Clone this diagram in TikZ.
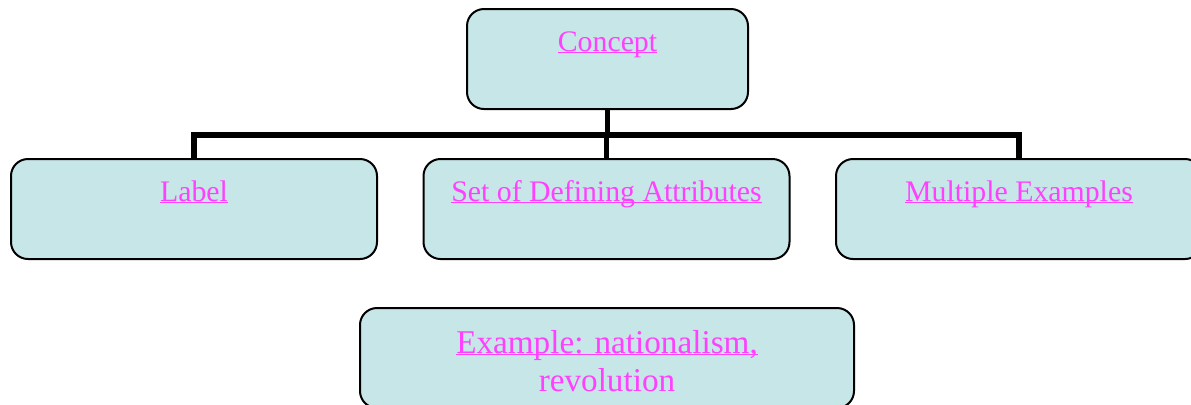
\documentclass[tikz,border=0pt]{standalone}
\usepackage{fontspec}
\setmainfont{Liberation Serif}
\definecolor{bleu}{RGB}{198,230,232}
\definecolor{rose}{RGB}{255,64,255}
\newcommand{\largeur}{183pt}
\newcommand{\hauteur}{50pt}
\newcommand{\souligne}[1]{\setbox0\hbox{#1}\rlap{\rule[-1.2pt]{\wd0}{0.9pt}}\box0}
\tikzstyle{case}=[rectangle, rounded corners=8.5pt, line width=1pt, minimum width=\largeur, draw = black, fill=bleu, text=rose, inner sep = 0cm, anchor=north west, align=center, font=\fontsize{14.9}{17}\selectfont, text height=21pt, text depth=29pt]
\tikzstyle{trait}=[line width=2.7pt]
\newcommand{\da}[1]{ \draw[trait] (C.south) -- ++(0,-25) -| (C#1.north); }

\begin{document}
\begin{tikzpicture}[x=0.5pt,y=0.5pt]

 \useasboundingbox (0,0) rectangle (1191,-404);

 \node[case,minimum width=140.5pt] (C) at (466,-8) {\souligne{Concept}};

 \foreach \i/\t in {0/Label,1/Set of Defining Attributes,2/Multiple Examples}%
 {%
     \node[case] (C\i) at (10+412.5*\i,-158) {\souligne{\t}};%
     \da{\i};
 }

 \node[case,minimum width=247pt,font=\fontsize{16.6}{19}\selectfont,text height=41.5pt,text depth=8.5pt] (Cex) at (359,-307) {\souligne{Example: nationalism,}\\revolution};

\end{tikzpicture}
\end{document}
